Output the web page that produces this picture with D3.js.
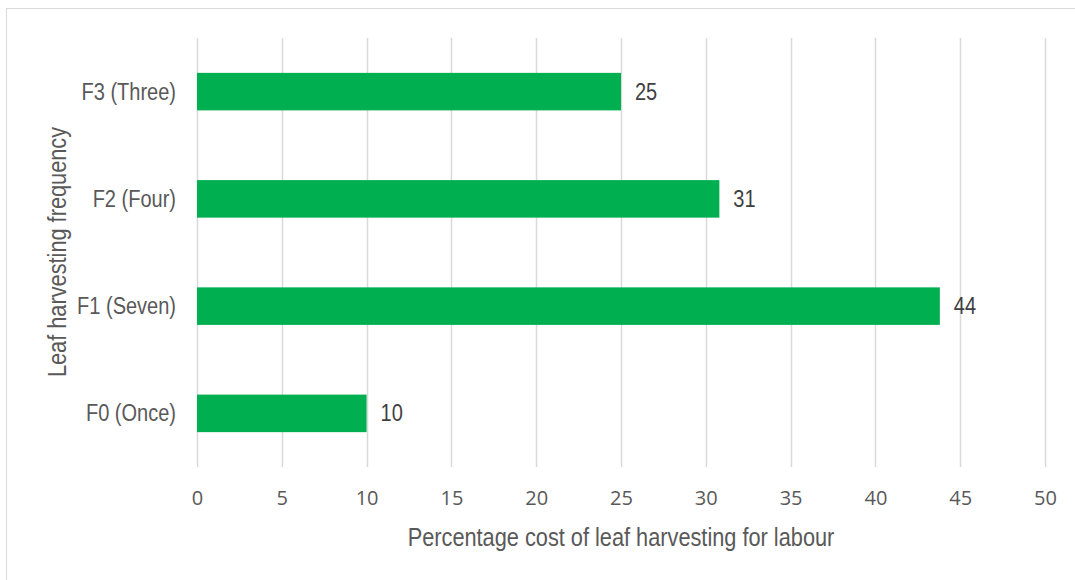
<!DOCTYPE html>
<html>
<head>
<meta charset="utf-8">
<script src="https://cdn.jsdelivr.net/npm/d3@7"></script>
<style>
  html, body { margin: 0; padding: 0; background: #fff; }
  svg { display: block; }
</style>
</head>
<body>
<svg id="chart" width="1075" height="580"></svg>
<script>
// Harvest frequency treatments, top to bottom
const categories = ["F3 (Three)", "F2 (Four)", "F1 (Seven)", "F0 (Once)"];
// Percentage cost of leaf harvesting spent on labour
const values = [25, 30.8, 43.8, 10];
const xTicks = [0, 5, 10, 15, 20, 25, 30, 35, 40, 45, 50];
const xTitle = "Percentage cost of leaf harvesting for labour";
const yTitle = "Leaf harvesting frequency";

const svg = d3.select("#chart");
const sans = "'Liberation Sans', Arial, sans-serif";
const tickFont = "'Open Sans', 'Segoe UI', 'Noto Sans', sans-serif";
const squeeze = 0.87; // condensed look for the label face

// Places a horizontally condensed text at (px, py), optionally rotated
function condensedText(parent, px, py, str, size, anchor, fill, rotate = 0) {
  const g = parent.append("g")
    .attr("transform", `translate(${px},${py}) rotate(${rotate}) scale(${squeeze},1)`);
  return g.append("text")
    .attr("dy", "0.35em")
    .attr("text-anchor", anchor)
    .attr("fill", fill)
    .style("font-family", sans)
    .style("font-size", size + "px")
    .text(str);
}

// outer chart frame
svg.append("rect")
  .attr("x", 6.5).attr("y", 8.5)
  .attr("width", 1075).attr("height", 580)
  .attr("fill", "#fff")
  .attr("stroke", "#d9d9d9").attr("stroke-width", 1);

const plot = { left: 197, right: 1045, top: 38, bottom: 467 };

const x = d3.scaleLinear().domain([0, 50]).range([plot.left, plot.right]);
const y = d3.scaleBand().domain(categories).range([plot.top, plot.bottom])
  .paddingInner(0.65).paddingOuter(0.325);

// vertical gridlines
svg.append("g")
  .selectAll("line")
  .data(xTicks)
  .join("line")
  .attr("x1", d => Math.round(x(d)) + 0.5).attr("x2", d => Math.round(x(d)) + 0.5)
  .attr("y1", plot.top).attr("y2", plot.bottom)
  .attr("stroke", "#d9d9d9").attr("stroke-width", 1.5);

// x axis tick labels
const xAxis = d3.axisBottom(x).tickValues(xTicks).tickSize(0).tickPadding(0);
const gx = svg.append("g").attr("transform", `translate(0, 491)`).call(xAxis);
gx.select(".domain").remove();
gx.selectAll("text")
  .attr("fill", "#595959")
  .style("font-family", tickFont)
  .style("font-size", "20px")
  .attr("dy", "0.71em");

// category labels (right aligned against the plot)
const gy = svg.append("g");
categories.forEach(c => {
  condensedText(gy, plot.left - 21, y(c) + y.bandwidth() / 2, c, 23, "end", "#595959");
});

// bars
svg.append("g")
  .selectAll("rect")
  .data(values)
  .join("rect")
  .attr("x", x(0))
  .attr("y", (d, i) => y(categories[i]))
  .attr("width", d => x(d) - x(0))
  .attr("height", y.bandwidth())
  .attr("fill", "#00b050");

// value labels
const gv = svg.append("g");
values.forEach((v, i) => {
  condensedText(gv, x(v) + 14, y(categories[i]) + y.bandwidth() / 2,
    d3.format(".0f")(v), 23, "start", "#404040");
});

// axis titles
condensedText(svg, (plot.left + plot.right) / 2, 537, xTitle, 25, "middle", "#595959");
condensedText(svg, 57, 252, yTitle, 25, "middle", "#595959", -90);
</script>
</body>
</html>
